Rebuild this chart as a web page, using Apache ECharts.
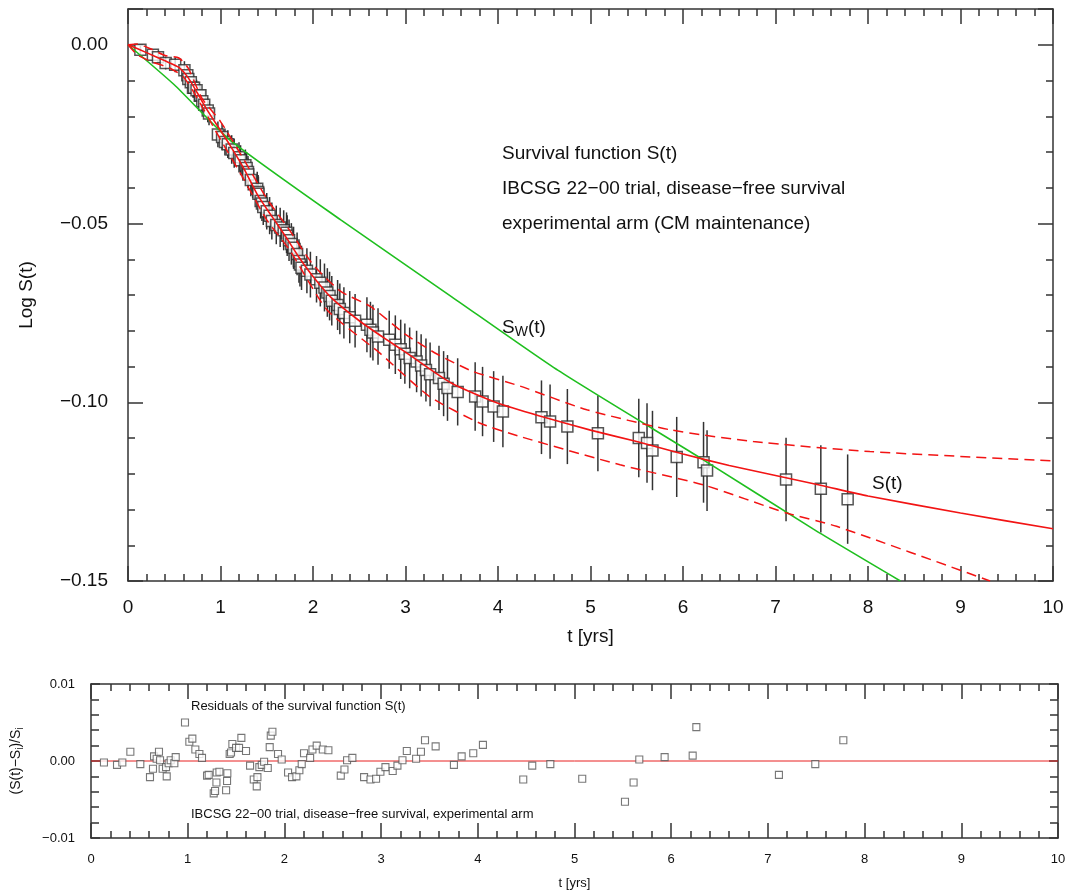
<!DOCTYPE html>
<html>
<head>
<meta charset="utf-8">
<script src="https://cdn.jsdelivr.net/npm/echarts@6/dist/echarts.min.js"></script>
<style>
  html, body { margin: 0; padding: 0; background: #fff; }
  #chart { width: 1070px; height: 892px; }
</style>
</head>
<body>
<div id="chart"></div>
<script>
// Event times [yrs] of the Kaplan-Meier estimate
const eventTimes = [0.134,0.269,0.324,0.407,0.51,0.61,0.641,0.652,0.679,0.703,0.714,0.741,0.776,0.783,0.803,0.824,0.862,0.876,0.972,1.017,1.048,1.079,1.121,1.148,1.2,1.217,1.269,1.283,1.297,1.3,1.328,1.397,1.407,1.41,1.434,1.448,1.462,1.5,1.531,1.555,1.603,1.645,1.683,1.714,1.721,1.741,1.766,1.79,1.828,1.848,1.859,1.876,1.934,1.972,2.038,2.079,2.124,2.155,2.179,2.203,2.266,2.29,2.334,2.397,2.455,2.583,2.621,2.648,2.703,2.824,2.89,2.948,2.993,3.045,3.12,3.169,3.221,3.266,3.362,3.412,3.454,3.564,3.753,3.833,3.953,4.053,4.47,4.563,4.75,5.08,5.522,5.611,5.67,5.932,6.222,6.26,7.114,7.49,7.78];

// Log S_i at each event time
const logSurvival = [-0.0014,-0.0028,-0.0035,-0.0051,-0.0056,-0.0071,-0.0085,-0.0096,-0.0105,-0.012,-0.012,-0.0127,-0.0143,-0.0141,-0.0158,-0.0168,-0.0184,-0.0192,-0.0251,-0.0258,-0.0272,-0.0278,-0.0293,-0.0303,-0.0315,-0.0323,-0.0337,-0.0345,-0.0356,-0.0363,-0.0378,-0.0403,-0.0412,-0.0417,-0.0437,-0.0444,-0.0454,-0.0466,-0.0478,-0.0493,-0.0504,-0.0511,-0.0519,-0.0526,-0.0534,-0.0547,-0.0557,-0.0568,-0.0585,-0.0605,-0.0615,-0.0624,-0.0632,-0.0643,-0.0656,-0.0666,-0.0679,-0.0693,-0.0703,-0.0716,-0.0728,-0.0739,-0.075,-0.0762,-0.0772,-0.0783,-0.0797,-0.0805,-0.0816,-0.0825,-0.0839,-0.0852,-0.0864,-0.0876,-0.0886,-0.0897,-0.091,-0.0922,-0.0932,-0.0948,-0.096,-0.0971,-0.0984,-0.0998,-0.1012,-0.1026,-0.1042,-0.1054,-0.1068,-0.1087,-0.11,-0.1114,-0.1135,-0.1153,-0.1168,-0.1191,-0.1216,-0.1242,-0.1271];

// Half-length of the error bar on each Log S_i
const logSurvivalErr = [0.0012,0.0014,0.0016,0.0018,0.0021,0.0025,0.0026,0.0026,0.0027,0.0028,0.0028,0.0029,0.003,0.003,0.0031,0.0032,0.0033,0.0033,0.0036,0.0037,0.0038,0.0039,0.004,0.0041,0.0042,0.0042,0.0044,0.0044,0.0045,0.0045,0.0046,0.0048,0.0048,0.0048,0.0049,0.0049,0.005,0.0051,0.0052,0.0052,0.0054,0.0055,0.0056,0.0057,0.0057,0.0058,0.0058,0.0059,0.006,0.0061,0.0061,0.0062,0.0063,0.0064,0.0065,0.0066,0.0067,0.0068,0.0068,0.0069,0.007,0.0071,0.0072,0.0073,0.0075,0.0077,0.0078,0.0078,0.0079,0.0081,0.0082,0.0083,0.0084,0.0085,0.0086,0.0087,0.0088,0.0089,0.009,0.0091,0.0092,0.0094,0.0096,0.0097,0.0099,0.01,0.0103,0.0104,0.0105,0.0106,0.011,0.0111,0.0111,0.0112,0.0113,0.0113,0.0117,0.0122,0.0125];

// Relative residuals (S(t)-S_i)/S_i at each event time
const residuals = [-0.0002,-0.0005,-0.0002,0.0012,-0.0004,-0.0021,-0.001,0.0006,0.0003,0.0012,0.0001,-0.001,-0.0008,-0.002,-0.0003,0.0001,-0.0003,0.0005,0.005,0.0025,0.0029,0.0015,0.0009,0.0004,-0.0019,-0.0018,-0.0042,-0.0039,-0.0028,-0.0015,-0.0014,-0.0038,-0.0026,-0.0016,0.0009,0.0011,0.0022,0.0017,0.0017,0.003,0.0013,-0.0006,-0.0024,-0.0033,-0.0021,-0.0008,-0.0005,-0.0001,-0.0009,0.0018,0.0033,0.0038,0.0009,0.0002,-0.0015,-0.0021,-0.002,-0.0012,-0.0004,0.001,0.0004,0.0015,0.002,0.0015,0.0014,-0.0019,-0.0011,0.0001,0.0004,-0.0021,-0.0024,-0.0023,-0.0014,-0.0008,-0.0013,-0.0006,0.0001,0.0013,0.0003,0.0012,0.0027,0.0019,-0.0005,0.0006,0.001,0.0021,-0.0024,-0.0006,-0.0004,-0.0023,-0.0053,-0.0028,0.0002,0.0005,0.0007,0.0044,-0.0018,-0.0004,0.0027];

// Fitted survival curve S(t): time grid and Log S
const fitT    = [0,0.2,0.4,0.55,0.65,0.75,0.85,1.0,1.1,1.25,1.4,1.55,1.7,1.85,2.0,2.2,2.5,2.75,3.0,3.5,4.0,4.5,5.0,5.5,6.0,6.5,7.0,7.5,8.0,9.0,10.0];
const fitLogS = [0,-0.0022,-0.0045,-0.0063,-0.0092,-0.0135,-0.018,-0.024,-0.028,-0.0345,-0.042,-0.0478,-0.0535,-0.0595,-0.0648,-0.0708,-0.0772,-0.0817,-0.086,-0.0947,-0.1003,-0.1042,-0.1078,-0.111,-0.1145,-0.1177,-0.1205,-0.1233,-0.1262,-0.131,-0.1354];

// Upper and lower confidence bands of the fit
const upperT    = [0,0.1,0.25,0.4,0.55,0.65,0.8,1.0,1.25,1.5,1.75,2.0,2.3,2.62,3.0,3.34,3.73,4.24,4.96,5.86,6.76,8.02,10.0];
const upperLogS = [0,0.0002,-0.0012,-0.003,-0.0037,-0.0065,-0.015,-0.0215,-0.032,-0.043,-0.052,-0.0615,-0.069,-0.0732,-0.081,-0.0865,-0.0914,-0.0955,-0.1021,-0.1077,-0.111,-0.1138,-0.1164];
const lowerT    = [0,0.1,0.25,0.45,0.6,0.75,1.0,1.25,1.5,1.75,2.15,2.72,3.26,3.8,4.24,5.32,6.22,7.12,7.66,9.32];
const lowerLogS = [0,-0.0028,-0.0047,-0.0065,-0.009,-0.015,-0.0265,-0.0375,-0.049,-0.0575,-0.0741,-0.0862,-0.0984,-0.1058,-0.1096,-0.1175,-0.1231,-0.131,-0.1347,-0.15];

// Weibull survival S_W(t)
const weibullT    = [0,0.5,1.1,2.3,3.5,4.65,6.22,7.41,8.35];
const weibullLogS = [0,-0.0112,-0.0266,-0.049,-0.0705,-0.0911,-0.1161,-0.1355,-0.15];

// Axis tick labels
const timeTicks = [0,1,2,3,4,5,6,7,8,9,10];
const logSTicks = [-0.15,-0.10,-0.05,0.00];
const residualTicks = [-0.01,0.00,0.01];

const FONT = 'Liberation Sans, Arial, sans-serif';
const AX = '#333';
const RED = '#f21414';
const GREEN = '#1fbf1f';

const zip = (a, b) => a.map((v, i) => [v, b[i]]);
const minus = s => s.replace('-', '\u2212');

const kmPoints = zip(eventTimes, logSurvival);
const kmBars = eventTimes.map((t, i) => [t, logSurvival[i] - logSurvivalErr[i], logSurvival[i] + logSurvivalErr[i]]);
const residualPoints = zip(eventTimes, residuals);

function tickAxisX(grid, pos, showLabel, fontSize, extra) {
  return Object.assign({
    type: 'value', gridIndex: grid, position: pos,
    min: timeTicks[0], max: timeTicks[timeTicks.length - 1], interval: 1,
    axisLine: { show: true, onZero: false, lineStyle: { color: AX, width: 1.5 } },
    axisTick: { show: true, inside: true, length: 15, lineStyle: { color: AX, width: 1.5 } },
    minorTick: { show: true, splitNumber: 5, length: 7, lineStyle: { color: AX, width: 1.5 } },
    splitLine: { show: false },
    axisLabel: {
      show: showLabel, fontSize: fontSize, fontFamily: FONT, color: '#111',
      margin: fontSize > 15 ? 17 : 15,
      formatter: v => (timeTicks.includes(v) ? String(v) : '')
    }
  }, extra || {});
}

// Main panel y-axes: major (0.05) and minor (0.01) ticks on each side
function logSAxis(pos, major, showLabel) {
  return {
    type: 'value', gridIndex: 0, position: pos,
    min: logSTicks[0], max: 0.01, interval: major ? 0.05 : 0.01,
    axisLine: { show: major, onZero: false, lineStyle: { color: AX, width: 1.5 } },
    axisTick: { show: true, inside: true, length: major ? 15 : 7, lineStyle: { color: AX, width: 1.5 } },
    splitLine: { show: false },
    axisLabel: {
      show: showLabel, fontSize: 19, fontFamily: FONT, color: '#111', margin: 20,
      formatter: v => {
        const hit = logSTicks.find(x => Math.abs(x - v) < 1e-9);
        return hit === undefined ? '' : minus(hit.toFixed(2));
      }
    },
    name: showLabel ? 'Log S(t)' : '',
    nameLocation: 'middle', nameGap: 92, nameRotate: 90,
    nameTextStyle: { fontSize: 19, fontFamily: FONT, color: '#111' }
  };
}

function residualAxis(pos, showLabel) {
  return {
    type: 'value', gridIndex: 1, position: pos,
    min: residualTicks[0], max: residualTicks[residualTicks.length - 1], interval: 0.01,
    axisLine: { show: true, onZero: false, lineStyle: { color: AX, width: 1.5 } },
    axisTick: { show: true, inside: true, length: 9, lineStyle: { color: AX, width: 1.5 } },
    minorTick: { show: true, splitNumber: 5, length: 8, lineStyle: { color: AX, width: 1.5 } },
    splitLine: { show: false },
    axisLabel: {
      show: showLabel, fontSize: 13, fontFamily: FONT, color: '#111', margin: 16,
      formatter: v => minus(v.toFixed(2))
    },
    name: showLabel ? '{a|(S(t)\u2212S}{s|i}{a|)/S}{s|i}' : '',
    nameLocation: 'middle', nameGap: 66, nameRotate: 90,
    nameTextStyle: {
      fontFamily: FONT, color: '#111',
      rich: { a: { fontSize: 14, fontFamily: FONT, color: '#111' }, s: { fontSize: 10, fontFamily: FONT, color: '#111', padding: [8, 0, 0, 0] } }
    }
  };
}

const chart = echarts.init(document.getElementById('chart'), null, { renderer: 'canvas' });

const curve = (t, v, z, style) => ({
  type: 'line', xAxisIndex: 0, yAxisIndex: 0, z: z, clip: true,
  data: zip(t, v), showSymbol: false, smooth: 0.2,
  lineStyle: style
});

const option = {
  backgroundColor: '#fff',
  animation: false,
  grid: [
    { left: 128, top: 9, width: 925, height: 572 },
    { left: 91, top: 684, width: 967, height: 154 }
  ],
  xAxis: [
    tickAxisX(0, 'bottom', true, 19, {
      name: 't [yrs]', nameLocation: 'middle', nameGap: 46,
      nameTextStyle: { fontSize: 19, fontFamily: FONT, color: '#111' }
    }),
    tickAxisX(0, 'top', false, 19),
    tickAxisX(1, 'bottom', true, 13, {
      name: 't [yrs]', nameLocation: 'middle', nameGap: 39,
      nameTextStyle: { fontSize: 13, fontFamily: FONT, color: '#111' }
    }),
    tickAxisX(1, 'top', false, 13)
  ],
  yAxis: [
    logSAxis('left', true, true),
    logSAxis('left', false, false),
    logSAxis('right', true, false),
    logSAxis('right', false, false),
    residualAxis('left', true),
    residualAxis('right', false)
  ],
  series: [
    {
      // error bars of the Kaplan-Meier points
      type: 'custom', xAxisIndex: 0, yAxisIndex: 0, clip: true, z: 2,
      data: kmBars,
      renderItem: (params, api) => {
        const lo = api.coord([api.value(0), api.value(1)]);
        const hi = api.coord([api.value(0), api.value(2)]);
        return {
          type: 'line',
          shape: { x1: lo[0], y1: lo[1], x2: hi[0], y2: hi[1] },
          style: { stroke: '#333', lineWidth: 1.5 }
        };
      }
    },
    {
      type: 'scatter', xAxisIndex: 0, yAxisIndex: 0, z: 3,
      data: kmPoints, symbol: 'rect', symbolSize: 11,
      itemStyle: { color: '#fff', borderColor: '#2a2a2a', borderWidth: 1.5 }
    },
    curve(weibullT, weibullLogS, 4, { color: GREEN, width: 1.6 }),
    curve(upperT, upperLogS, 5, { color: RED, width: 1.5, type: [10, 6] }),
    curve(lowerT, lowerLogS, 5, { color: RED, width: 1.5, type: [10, 6] }),
    curve(fitT, fitLogS, 6, { color: RED, width: 1.6 }),
    {
      // zero line of the residual panel
      type: 'line', xAxisIndex: 2, yAxisIndex: 4, z: 2,
      data: [[timeTicks[0], 0], [timeTicks[timeTicks.length - 1], 0]], showSymbol: false,
      lineStyle: { color: '#e82020', width: 1 }
    },
    {
      type: 'scatter', xAxisIndex: 2, yAxisIndex: 4, z: 3,
      data: residualPoints, symbol: 'rect', symbolSize: 7,
      itemStyle: { color: '#fff', borderColor: '#555', borderWidth: 1.1 }
    }
  ],
  graphic: [
    { type: 'text', left: 502, top: 144, style: { text: 'Survival function S(t)', fontSize: 19, fontFamily: FONT, fill: '#111' } },
    { type: 'text', left: 502, top: 179, style: { text: 'IBCSG 22\u221200 trial, disease\u2212free survival', fontSize: 19, fontFamily: FONT, fill: '#111' } },
    { type: 'text', left: 502, top: 214, style: { text: 'experimental arm (CM maintenance)', fontSize: 19, fontFamily: FONT, fill: '#111' } },
    {
      type: 'text', left: 502, top: 318,
      style: {
        text: '{a|S}{b|W}{a|(t)}', fontFamily: FONT, fill: '#111',
        rich: { a: { fontSize: 19, fontFamily: FONT, fill: '#111' }, b: { fontSize: 14, fontFamily: FONT, fill: '#111', padding: [9, 0, 0, 0] } }
      }
    },
    { type: 'text', left: 872, top: 474, style: { text: 'S(t)', fontSize: 19, fontFamily: FONT, fill: '#111' } },
    { type: 'text', left: 191, top: 700, style: { text: 'Residuals of the survival function S(t)', fontSize: 13, fontFamily: FONT, fill: '#111' } },
    { type: 'text', left: 191, top: 808, style: { text: 'IBCSG 22\u221200 trial, disease\u2212free survival, experimental arm', fontSize: 13, fontFamily: FONT, fill: '#111' } }
  ]
};

chart.setOption(option);
</script>
</body>
</html>
